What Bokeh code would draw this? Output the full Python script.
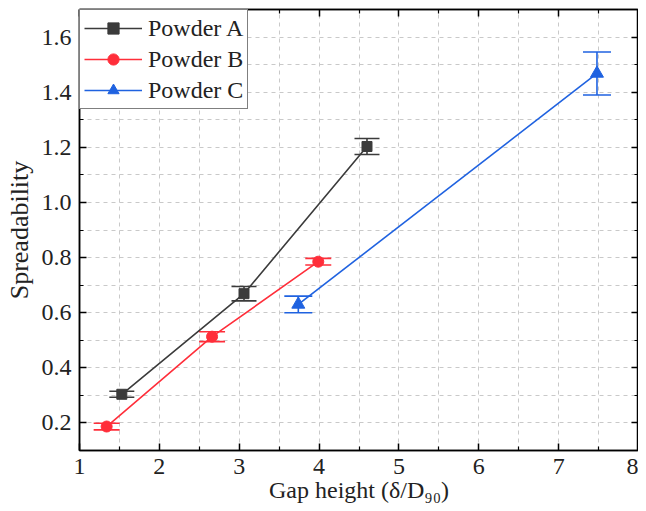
from bokeh.plotting import figure
from bokeh.models import (ColumnDataSource, Whisker, TeeHead, FixedTicker, LinearAxis,
                          Legend, LegendItem, Range1d, CustomJSTickFormatter)
from bokeh.embed import file_html
from bokeh.resources import INLINE

# ---- data ----
series_names = ["Powder A", "Powder B", "Powder C"]
a_x = [1.53, 3.06, 4.60]
a_y = [0.304, 0.669, 1.203]
a_err = [0.011, 0.026, 0.029]
b_x = [1.34, 2.66, 3.99]
b_y = [0.187, 0.513, 0.785]
b_err = [0.012, 0.018, 0.012]
c_x = [3.74, 7.48]
c_y = [0.630, 1.468]
c_err = [0.030, 0.078]

x_ticks = [1, 2, 3, 4, 5, 6, 7, 8]
x_minor = [1.5, 2.5, 3.5, 4.5, 5.5, 6.5, 7.5]
y_ticks = [0.2, 0.4, 0.6, 0.8, 1.0, 1.2, 1.4, 1.6]
y_minor = [0.1, 0.3, 0.5, 0.7, 0.9, 1.1, 1.3, 1.5, 1.7]
y_tick_labels = ["0.2", "0.4", "0.6", "0.8", "1.0", "1.2", "1.4", "1.6"]

x_title = "Gap height (\u03b4/D\u2089\u2080)"
y_title = "Spreadability"

FONT = "Liberation Serif"
colors = ["#3b3b3b", "#ff2e3a", "#1f62e0"]
markers = ["square", "circle", "triangle"]
msizes = [10, 11, 13]
head_sizes = [25, 26, 28]

p = figure(frame_width=559, frame_height=441, x_range=Range1d(1, 8), y_range=Range1d(0.1, 1.7),
           output_backend="svg", toolbar_location=None,
           min_border_left=79, min_border_right=0, min_border_top=9, min_border_bottom=56)
p.background_fill_color = "white"
p.border_fill_color = "white"
p.outline_line_color = "black"
p.outline_line_width = 1.5

xt = FixedTicker(ticks=x_ticks, minor_ticks=x_minor)
yt = FixedTicker(ticks=y_ticks, minor_ticks=y_minor)

for ax in [p.xaxis[0], p.yaxis[0]]:
    ax.axis_line_color = "black"
    ax.axis_line_width = 1.5
    ax.major_tick_in = 7
    ax.major_tick_out = 0
    ax.minor_tick_in = 4
    ax.minor_tick_out = 0
    ax.major_tick_line_width = 1.5
    ax.minor_tick_line_width = 1.2
    ax.major_label_text_font = FONT
    ax.major_label_text_font_size = "24px"
    ax.major_label_text_color = "#222222"
    ax.axis_label_text_font = FONT
    ax.axis_label_text_font_style = "normal"
    ax.axis_label_text_color = "#222222"
p.xaxis[0].ticker = xt
p.yaxis[0].ticker = yt
p.yaxis[0].major_label_overrides = {t: l for t, l in zip(y_ticks, y_tick_labels)}
p.xaxis[0].major_label_standoff = 8
p.yaxis[0].major_label_standoff = 8
p.yaxis[0].axis_label = y_title
p.yaxis[0].axis_label_text_font_size = "26px"
p.yaxis[0].axis_label_standoff = 5
p.xaxis[0].axis_label = x_title
p.xaxis[0].axis_label_text_font_size = "24px"
p.xaxis[0].axis_label_standoff = 0

blank = CustomJSTickFormatter(code="return ''")
for loc, tk in [("above", xt), ("right", yt)]:
    ax = LinearAxis(ticker=tk, formatter=blank)
    ax.axis_line_color = "black"
    ax.axis_line_width = 1.5
    ax.major_tick_in = 7
    ax.major_tick_out = 0
    ax.minor_tick_in = 4
    ax.minor_tick_out = 0
    ax.major_tick_line_width = 1.5
    ax.minor_tick_line_width = 1.2
    ax.major_label_standoff = 0
    ax.major_label_text_font_size = "0px"
    p.add_layout(ax, loc)

for g, tk in [(p.xgrid[0], xt), (p.ygrid[0], yt)]:
    g.ticker = tk
    g.grid_line_color = "#c9c9c9"
    g.grid_line_dash = "4 4"
    g.grid_line_width = 1
    g.minor_grid_line_color = "#c9c9c9"
    g.minor_grid_line_dash = "4 4"
    g.minor_grid_line_width = 1

items = []
for name, xs, ys, es, col, mk, ms, hs in zip(
        series_names, [a_x, b_x, c_x], [a_y, b_y, c_y], [a_err, b_err, c_err],
        colors, markers, msizes, head_sizes):
    src = ColumnDataSource(dict(x=xs, y=ys,
                                lower=[y - e for y, e in zip(ys, es)],
                                upper=[y + e for y, e in zip(ys, es)]))
    ln = p.line("x", "y", source=src, line_color=col, line_width=1.6)
    w = Whisker(source=src, base="x", lower="lower", upper="upper", dimension="height",
                line_color=col, line_width=1.6,
                upper_head=TeeHead(size=hs, line_color=col, line_width=1.6),
                lower_head=TeeHead(size=hs, line_color=col, line_width=1.6))
    p.add_layout(w)
    sc = p.scatter("x", "y", source=src, marker=mk, size=ms, fill_color=col, line_color=col)
    items.append(LegendItem(label=name, renderers=[ln, sc]))

legend = Legend(items=items, location="top_left", margin=0, padding=4, spacing=3,
                glyph_width=58, glyph_height=28, label_standoff=6,
                label_text_font=FONT, label_text_font_size="24px", label_text_color="#222222",
                border_line_color="black", border_line_width=1.5,
                background_fill_color="white", background_fill_alpha=1.0)
p.add_layout(legend)

open("out.html", "w").write(file_html(p, INLINE))
